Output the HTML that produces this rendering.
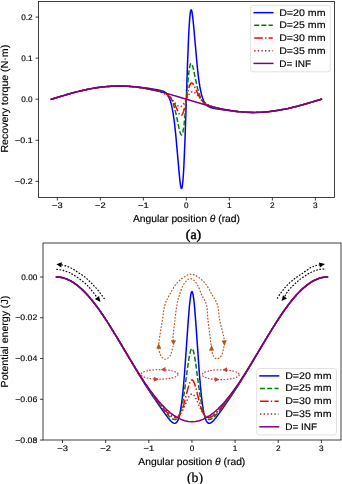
<!DOCTYPE html><html><head><meta charset="utf-8"><style>html,body{margin:0;padding:0;background:#fff;width:342px;height:484px;overflow:hidden}svg{will-change:transform}text{stroke:#000;stroke-width:0.15px;text-rendering:geometricPrecision}</style></head><body><svg width="342" height="484" viewBox="0 0 342 484" style="display:block;font-family:'Liberation Sans',sans-serif" fill="#000">
<rect width="342" height="484" fill="#fff"/>
<defs><clipPath id="ct"><rect x="38.5" y="1.5" width="296" height="196"/></clipPath><clipPath id="cb"><rect x="43" y="243" width="298" height="197"/></clipPath></defs>
<g clip-path="url(#ct)"><path d="M51.26,99.20 L70.61,93.46 L77.57,91.62 L84.54,89.98 L91.50,88.57 L97.69,87.56 L104.66,86.70 L110.85,86.20 L117.04,85.97 L124.00,86.02 L130.97,86.39 L137.93,87.04 L148.08,88.35 L158.51,89.96 L162.27,90.92 L163.67,91.51 L164.96,92.26 L166.35,93.43 L167.54,94.85 L168.61,96.62 L169.58,98.73 L170.44,101.15 L171.30,104.20 L172.91,112.04 L174.31,121.65 L175.60,133.17 L179.79,179.84 L180.65,186.14 L181.08,187.93 L181.30,188.41 L181.51,188.58 L181.84,188.22 L182.16,187.07 L182.69,183.27 L183.23,176.99 L183.77,168.20 L184.95,140.85 L187.42,66.56 L188.50,38.96 L189.14,26.39 L189.79,17.34 L190.44,11.90 L190.76,10.47 L191.08,9.86 L191.29,9.87 L191.51,10.20 L191.94,11.71 L192.80,17.60 L193.77,27.33 L197.21,66.29 L198.50,77.59 L199.89,86.98 L201.51,94.62 L202.37,97.58 L203.23,99.93 L204.19,101.99 L205.27,103.70 L206.45,105.08 L207.74,106.14 L209.03,106.89 L210.43,107.48 L214.19,108.44 L224.62,110.05 L234.77,111.36 L241.73,112.01 L248.70,112.38 L255.66,112.43 L261.85,112.20 L268.04,111.70 L275.01,110.84 L281.20,109.83 L288.16,108.42 L295.13,106.78 L302.09,104.94 L321.44,99.20" fill="none" stroke="#0000ff" stroke-width="1.50" stroke-linecap="square" stroke-linejoin="round"/><path d="M51.26,99.20 L69.83,93.68 L76.80,91.82 L83.76,90.15 L89.95,88.87 L96.14,87.80 L102.34,86.96 L108.53,86.38 L114.72,86.06 L120.91,86.00 L127.10,86.21 L133.29,86.68 L140.25,87.49 L147.22,88.55 L155.50,90.07 L161.09,91.35 L163.13,91.98 L164.85,92.66 L166.35,93.46 L167.64,94.36 L168.83,95.46 L169.90,96.75 L170.87,98.22 L171.84,100.06 L173.45,104.14 L175.06,109.74 L176.46,115.84 L178.93,127.93 L179.90,131.91 L180.76,134.28 L181.19,134.88 L181.62,134.99 L181.94,134.72 L182.26,134.13 L182.91,131.91 L183.45,128.96 L184.09,124.14 L185.28,112.19 L187.75,82.62 L188.93,71.68 L189.47,68.14 L190.00,65.59 L190.54,64.03 L190.86,63.55 L191.19,63.39 L191.62,63.63 L192.05,64.34 L192.91,66.88 L197.64,88.66 L199.25,94.26 L200.86,98.34 L201.83,100.18 L202.80,101.65 L203.87,102.94 L205.06,104.04 L206.34,104.94 L207.85,105.74 L209.57,106.42 L211.61,107.05 L217.20,108.33 L225.48,109.85 L232.45,110.91 L239.41,111.72 L245.60,112.19 L251.79,112.40 L257.98,112.34 L264.17,112.02 L270.36,111.44 L276.56,110.60 L282.75,109.53 L288.94,108.25 L295.90,106.58 L302.87,104.72 L321.44,99.20" fill="none" stroke="#008000" stroke-width="1.50" stroke-dasharray="5.0,2.2" stroke-linejoin="round"/><path d="M51.26,99.20 L66.74,94.56 L78.35,91.43 L88.41,89.17 L98.47,87.46 L103.88,86.79 L108.53,86.38 L117.81,86.00 L122.46,86.04 L127.87,86.27 L132.52,86.62 L137.93,87.21 L147.97,88.76 L157.54,90.75 L160.66,91.59 L163.24,92.46 L165.28,93.35 L167.11,94.40 L168.50,95.44 L169.79,96.63 L170.98,97.98 L172.16,99.62 L174.42,103.64 L178.82,113.22 L180.01,114.92 L180.54,115.33 L181.08,115.46 L181.73,115.18 L182.37,114.39 L182.91,113.32 L183.56,111.55 L184.84,106.56 L187.53,93.32 L188.72,88.32 L189.47,85.90 L190.11,84.39 L190.76,83.42 L191.51,82.95 L192.05,83.02 L192.59,83.38 L193.77,84.99 L194.84,87.11 L198.28,94.76 L200.65,98.94 L201.83,100.55 L203.01,101.88 L204.30,103.05 L205.70,104.07 L207.53,105.10 L209.57,105.98 L212.15,106.84 L215.27,107.68 L224.83,109.66 L234.77,111.19 L240.18,111.78 L244.83,112.13 L250.24,112.36 L254.89,112.40 L264.17,112.02 L268.82,111.61 L274.23,110.94 L284.29,109.23 L294.35,106.97 L305.96,103.84 L321.44,99.20" fill="none" stroke="#ff0000" stroke-width="1.50" stroke-dasharray="8.64,2.2,1.4,2.2" stroke-linejoin="round"/><path d="M51.26,99.20 L65.19,95.00 L75.25,92.22 L84.54,89.98 L93.82,88.17 L103.11,86.87 L111.62,86.18 L120.13,85.99 L128.65,86.31 L137.93,87.21 L147.11,88.63 L155.39,90.45 L158.62,91.38 L161.41,92.38 L165.06,94.11 L168.29,96.28 L171.30,99.01 L176.78,104.92 L178.18,106.03 L179.47,106.59 L180.33,106.64 L181.08,106.45 L181.84,106.02 L182.69,105.23 L184.41,102.80 L187.85,96.34 L189.36,93.96 L190.22,92.94 L191.08,92.23 L191.94,91.84 L192.80,91.75 L194.20,92.19 L195.70,93.28 L201.72,99.72 L203.44,101.32 L205.16,102.69 L206.88,103.84 L208.82,104.92 L210.86,105.85 L213.22,106.74 L216.99,107.87 L221.61,108.97 L226.88,110.00 L232.45,110.88 L237.86,111.56 L243.28,112.04 L248.70,112.33 L253.34,112.41 L260.30,112.26 L268.04,111.69 L275.78,110.72 L283.52,109.38 L291.26,107.72 L299.77,105.57 L309.06,102.95 L321.44,99.20" fill="none" stroke="#a52a2a" stroke-width="1.50" stroke-dasharray="1.4,2.2" stroke-linejoin="round"/><path d="M51.26,99.20 L63.64,95.46 L72.93,92.84 L81.44,90.69 L89.18,89.02 L96.92,87.69 L103.88,86.80 L111.62,86.20 L118.59,86.02 L126.33,86.22 L134.06,86.84 L141.80,87.86 L150.55,89.45 L158.62,91.27 L167.54,93.62 L176.46,96.19 L200.86,103.57 L208.39,105.66 L215.16,107.39 L223.22,109.17 L230.90,110.54 L237.86,111.48 L244.83,112.09 L253.34,112.38 L261.85,112.16 L270.36,111.43 L278.88,110.22 L288.16,108.41 L297.45,106.18 L307.51,103.40 L321.44,99.20" fill="none" stroke="#800080" stroke-width="1.50" stroke-linecap="square" stroke-linejoin="round"/></g>
<rect x="38.5" y="1.5" width="296" height="196" stroke="#000" stroke-width="0.75" fill="none"/>
<line x1="35.5" y1="17.07" x2="38.5" y2="17.07" stroke="#000" stroke-width="0.75" fill="none"/>
<text x="32.60" y="19.82" font-size="8.00" text-anchor="end" textLength="11.45" lengthAdjust="spacingAndGlyphs">0.2</text>
<line x1="35.5" y1="58.13" x2="38.5" y2="58.13" stroke="#000" stroke-width="0.75" fill="none"/>
<text x="32.60" y="60.88" font-size="8.00" text-anchor="end" textLength="11.45" lengthAdjust="spacingAndGlyphs">0.1</text>
<line x1="35.5" y1="99.20" x2="38.5" y2="99.20" stroke="#000" stroke-width="0.75" fill="none"/>
<text x="32.60" y="101.95" font-size="8.00" text-anchor="end" textLength="11.45" lengthAdjust="spacingAndGlyphs">0.0</text>
<line x1="35.5" y1="140.27" x2="38.5" y2="140.27" stroke="#000" stroke-width="0.75" fill="none"/>
<text x="32.60" y="143.02" font-size="8.00" text-anchor="end" textLength="17.48" lengthAdjust="spacingAndGlyphs">−0.1</text>
<line x1="35.5" y1="181.33" x2="38.5" y2="181.33" stroke="#000" stroke-width="0.75" fill="none"/>
<text x="32.60" y="184.08" font-size="8.00" text-anchor="end" textLength="17.48" lengthAdjust="spacingAndGlyphs">−0.2</text>
<line x1="57.35" y1="197.5" x2="57.35" y2="200.5" stroke="#000" stroke-width="0.75" fill="none"/>
<text x="57.35" y="207.80" font-size="8.00" text-anchor="middle" textLength="10.61" lengthAdjust="spacingAndGlyphs">−3</text>
<line x1="100.35" y1="197.5" x2="100.35" y2="200.5" stroke="#000" stroke-width="0.75" fill="none"/>
<text x="100.35" y="207.80" font-size="8.00" text-anchor="middle" textLength="10.61" lengthAdjust="spacingAndGlyphs">−2</text>
<line x1="143.35" y1="197.5" x2="143.35" y2="200.5" stroke="#000" stroke-width="0.75" fill="none"/>
<text x="143.35" y="207.80" font-size="8.00" text-anchor="middle" textLength="10.61" lengthAdjust="spacingAndGlyphs">−1</text>
<line x1="186.35" y1="197.5" x2="186.35" y2="200.5" stroke="#000" stroke-width="0.75" fill="none"/>
<text x="186.35" y="207.80" font-size="8.00" text-anchor="middle" textLength="4.58" lengthAdjust="spacingAndGlyphs">0</text>
<line x1="229.35" y1="197.5" x2="229.35" y2="200.5" stroke="#000" stroke-width="0.75" fill="none"/>
<text x="229.35" y="207.80" font-size="8.00" text-anchor="middle" textLength="4.58" lengthAdjust="spacingAndGlyphs">1</text>
<line x1="272.35" y1="197.5" x2="272.35" y2="200.5" stroke="#000" stroke-width="0.75" fill="none"/>
<text x="272.35" y="207.80" font-size="8.00" text-anchor="middle" textLength="4.58" lengthAdjust="spacingAndGlyphs">2</text>
<line x1="315.35" y1="197.5" x2="315.35" y2="200.5" stroke="#000" stroke-width="0.75" fill="none"/>
<text x="315.35" y="207.80" font-size="8.00" text-anchor="middle" textLength="4.58" lengthAdjust="spacingAndGlyphs">3</text>
<text x="133.0" y="221.6" font-size="10.2" textLength="107" lengthAdjust="spacingAndGlyphs">Angular position <tspan font-style="italic">θ</tspan> (rad)</text>
<text transform="translate(8.0,152.6) rotate(-90)" x="0" y="0" font-size="10.2" textLength="107.8" lengthAdjust="spacingAndGlyphs">Recovery torque (N·m)</text>
<rect x="250.60" y="5.40" width="79.70" height="66.40" rx="2.5" ry="2.5" fill="#fff" fill-opacity="0.8" stroke="#d6d6d6" stroke-width="0.72"/><line x1="254.20" y1="12.65" x2="272.80" y2="12.65" stroke="#0000ff" stroke-width="1.50" stroke-linecap="square"/><text x="279.20" y="15.80" font-size="9.60" text-anchor="start" textLength="46.31" lengthAdjust="spacingAndGlyphs">D=20 mm</text><line x1="254.20" y1="25.34" x2="272.80" y2="25.34" stroke="#008000" stroke-width="1.50" stroke-dasharray="5.0,2.2"/><text x="279.20" y="28.48" font-size="9.60" text-anchor="start" textLength="46.31" lengthAdjust="spacingAndGlyphs">D=25 mm</text><line x1="254.20" y1="38.03" x2="272.80" y2="38.03" stroke="#ff0000" stroke-width="1.50" stroke-dasharray="8.64,2.2,1.4,2.2"/><text x="279.20" y="41.15" font-size="9.60" text-anchor="start" textLength="46.31" lengthAdjust="spacingAndGlyphs">D=30 mm</text><line x1="254.20" y1="50.72" x2="272.80" y2="50.72" stroke="#a52a2a" stroke-width="1.50" stroke-dasharray="1.4,2.2"/><text x="279.20" y="53.83" font-size="9.60" text-anchor="start" textLength="46.31" lengthAdjust="spacingAndGlyphs">D=35 mm</text><line x1="254.20" y1="63.41" x2="272.80" y2="63.41" stroke="#800080" stroke-width="1.50" stroke-linecap="square"/><text x="279.20" y="66.50" font-size="9.60" text-anchor="start" textLength="31.90" lengthAdjust="spacingAndGlyphs">D= INF</text>
<text x="193.5" y="238.5" font-size="13.8" text-anchor="middle" style="font-family:'Liberation Serif',serif;stroke-width:0.45px">(a)</text>
<g clip-path="url(#cb)"><path d="M56.42,277.00 L60.30,277.30 L62.63,277.75 L64.96,278.42 L68.84,279.99 L71.17,281.21 L73.50,282.62 L78.16,286.02 L82.82,290.17 L87.48,295.00 L92.13,300.48 L96.02,305.48 L99.90,310.84 L103.78,316.52 L108.44,323.69 L116.98,337.57 L139.49,375.41 L146.48,386.57 L153.23,396.86 L162.72,410.61 L168.65,418.61 L170.49,420.73 L172.11,422.25 L173.51,423.12 L174.69,423.38 L175.77,423.07 L176.85,422.08 L177.82,420.42 L178.68,418.18 L179.55,415.08 L180.30,411.54 L181.81,401.74 L183.11,390.08 L184.40,375.29 L188.18,321.62 L189.36,306.77 L190.55,296.26 L191.20,292.96 L191.73,291.70 L192.06,291.62 L192.38,292.04 L193.03,294.38 L193.68,298.59 L194.43,305.61 L195.72,321.62 L199.61,376.64 L201.01,392.24 L202.30,403.38 L203.81,412.63 L204.57,415.94 L205.43,418.81 L206.29,420.86 L207.26,422.34 L208.34,423.18 L208.88,423.35 L209.53,423.36 L210.72,422.97 L212.12,421.98 L213.74,420.38 L215.68,418.07 L222.04,409.39 L231.32,395.89 L238.20,385.36 L245.18,374.14 L266.92,337.57 L275.46,323.69 L280.12,316.52 L284.00,310.84 L287.88,305.48 L291.77,300.48 L296.42,295.00 L301.08,290.17 L305.74,286.02 L310.40,282.62 L312.73,281.21 L315.06,279.99 L318.94,278.42 L321.27,277.75 L323.60,277.30 L327.48,277.00" fill="none" stroke="#0000ff" stroke-width="1.50" stroke-linecap="square" stroke-linejoin="round"/><path d="M56.42,276.99 L60.30,277.29 L64.19,278.17 L68.07,279.62 L70.40,280.77 L72.73,282.11 L76.61,284.79 L81.27,288.69 L85.92,293.30 L90.58,298.56 L94.46,303.40 L98.35,308.62 L103.00,315.32 L107.66,322.42 L116.20,336.20 L138.72,373.87 L145.70,384.91 L152.37,394.83 L160.46,405.93 L164.12,410.58 L167.25,414.23 L169.63,416.67 L171.57,418.30 L173.29,419.29 L174.80,419.62 L175.77,419.46 L176.74,418.93 L177.61,418.09 L178.47,416.82 L179.22,415.30 L179.98,413.36 L181.49,408.03 L182.78,401.78 L184.08,393.95 L187.85,365.89 L189.04,357.96 L190.33,351.62 L190.98,349.69 L191.52,348.80 L191.84,348.59 L192.17,348.63 L192.49,348.92 L192.92,349.69 L193.68,352.03 L194.43,355.52 L195.83,364.34 L198.74,386.39 L200.15,396.04 L201.66,404.58 L203.06,410.57 L203.92,413.36 L204.78,415.54 L205.65,417.18 L206.62,418.45 L207.59,419.22 L208.67,419.59 L209.85,419.53 L211.15,419.04 L212.77,417.98 L214.60,416.36 L216.86,413.99 L219.45,410.97 L226.25,402.21 L233.58,391.85 L239.75,382.51 L245.96,372.61 L267.70,336.20 L276.24,322.42 L280.90,315.32 L284.78,309.71 L288.66,304.42 L292.54,299.50 L297.20,294.13 L301.86,289.41 L306.52,285.39 L310.40,282.60 L312.73,281.19 L315.06,279.98 L318.94,278.41 L321.27,277.74 L323.60,277.29 L327.48,276.99" fill="none" stroke="#008000" stroke-width="1.50" stroke-dasharray="5.0,2.2" stroke-linejoin="round"/><path d="M56.42,276.98 L60.30,277.28 L64.19,278.16 L68.07,279.61 L70.40,280.76 L72.73,282.10 L76.61,284.78 L81.27,288.67 L85.15,292.47 L89.81,297.62 L93.69,302.38 L97.57,307.52 L102.23,314.14 L106.89,321.17 L115.43,334.86 L131.73,362.21 L138.72,373.67 L145.70,384.60 L152.15,394.02 L156.14,399.46 L160.03,404.44 L163.59,408.68 L166.82,412.19 L169.52,414.73 L171.78,416.43 L173.72,417.42 L175.45,417.74 L176.31,417.64 L177.07,417.38 L177.82,416.94 L178.58,416.29 L179.98,414.45 L181.38,411.70 L182.57,408.59 L183.86,404.41 L187.74,389.15 L189.04,384.66 L189.79,382.59 L190.44,381.24 L191.20,380.24 L191.84,379.90 L192.49,380.07 L193.14,380.73 L193.78,381.86 L194.54,383.72 L195.94,388.34 L199.18,401.23 L200.79,406.94 L202.52,411.70 L203.38,413.51 L204.35,415.11 L205.43,416.39 L206.51,417.22 L207.70,417.66 L208.99,417.70 L210.39,417.33 L211.90,416.57 L213.63,415.35 L215.46,413.76 L219.67,409.41 L224.74,403.36 L230.13,396.26 L235.87,388.08 L241.30,379.82 L246.74,371.16 L267.70,336.15 L276.24,322.38 L280.90,315.29 L284.78,309.68 L288.66,304.40 L292.54,299.48 L297.20,294.11 L301.86,289.39 L306.52,285.37 L310.40,282.59 L312.73,281.18 L315.06,279.97 L318.94,278.40 L321.27,277.74 L323.60,277.28 L327.48,276.98" fill="none" stroke="#ff0000" stroke-width="1.50" stroke-dasharray="8.64,2.2,1.4,2.2" stroke-linejoin="round"/><path d="M56.42,276.98 L60.30,277.28 L64.19,278.16 L68.07,279.61 L70.40,280.76 L72.73,282.10 L76.61,284.77 L81.27,288.67 L85.15,292.46 L89.81,297.62 L93.69,302.38 L97.57,307.52 L102.23,314.14 L106.89,321.17 L115.43,334.86 L131.73,362.18 L138.72,373.63 L145.70,384.52 L152.26,394.02 L156.14,399.24 L159.81,403.84 L163.26,407.83 L166.39,411.07 L169.09,413.47 L171.46,415.15 L173.62,416.16 L175.56,416.50 L176.96,416.31 L178.36,415.66 L179.66,414.60 L180.95,413.06 L182.14,411.21 L183.43,408.76 L187.42,399.71 L188.82,396.91 L189.58,395.72 L190.33,394.80 L191.09,394.22 L191.73,393.99 L192.49,394.07 L193.24,394.51 L194.00,395.29 L194.75,396.37 L196.26,399.24 L199.72,407.15 L201.44,410.64 L203.27,413.49 L204.24,414.60 L205.22,415.44 L206.40,416.12 L207.59,416.45 L208.88,416.47 L210.18,416.20 L211.58,415.62 L213.20,414.67 L214.81,413.47 L216.65,411.88 L220.96,407.47 L225.81,401.72 L231.10,394.76 L236.64,386.84 L242.08,378.55 L247.51,369.86 L267.70,336.14 L276.24,322.37 L280.90,315.28 L284.78,309.68 L288.66,304.39 L292.54,299.47 L297.20,294.11 L301.86,289.39 L306.52,285.37 L310.40,282.59 L312.73,281.18 L315.06,279.97 L318.94,278.40 L321.27,277.74 L323.60,277.28 L327.48,276.98" fill="none" stroke="#a52a2a" stroke-width="1.50" stroke-dasharray="1.4,2.2" stroke-linejoin="round"/><path d="M56.42,276.97 L60.30,277.26 L62.63,277.72 L64.96,278.38 L68.84,279.95 L71.17,281.16 L73.50,282.57 L77.38,285.35 L82.04,289.36 L86.70,294.07 L91.36,299.43 L95.24,304.34 L99.12,309.62 L103.00,315.22 L107.66,322.29 L116.20,336.02 L134.84,367.02 L140.27,375.70 L144.93,382.81 L149.56,389.50 L153.88,395.31 L158.09,400.53 L162.18,405.15 L166.07,409.06 L169.95,412.49 L173.72,415.34 L177.39,417.62 L181.06,419.41 L184.72,420.69 L188.39,421.46 L191.95,421.70 L195.51,421.46 L199.18,420.69 L202.84,419.41 L206.51,417.62 L210.18,415.34 L213.95,412.49 L217.83,409.06 L221.72,405.15 L225.81,400.53 L230.02,395.31 L234.34,389.50 L238.97,382.81 L243.63,375.70 L249.06,367.02 L267.70,336.02 L276.24,322.29 L280.90,315.22 L284.78,309.62 L288.66,304.34 L292.54,299.43 L297.20,294.07 L301.86,289.36 L306.52,285.35 L310.40,282.57 L312.73,281.16 L315.06,279.95 L318.94,278.38 L321.27,277.72 L323.60,277.26 L327.48,276.97" fill="none" stroke="#800080" stroke-width="1.50" stroke-linecap="square" stroke-linejoin="round"/></g>
<rect x="43" y="243" width="298" height="197" stroke="#000" stroke-width="0.75" fill="none"/>
<line x1="40" y1="276.97" x2="43" y2="276.97" stroke="#000" stroke-width="0.75" fill="none"/>
<text x="37.30" y="279.72" font-size="8.00" text-anchor="end" textLength="16.03" lengthAdjust="spacingAndGlyphs">0.00</text>
<line x1="40" y1="317.74" x2="43" y2="317.74" stroke="#000" stroke-width="0.75" fill="none"/>
<text x="37.30" y="320.49" font-size="8.00" text-anchor="end" textLength="22.06" lengthAdjust="spacingAndGlyphs">−0.02</text>
<line x1="40" y1="358.51" x2="43" y2="358.51" stroke="#000" stroke-width="0.75" fill="none"/>
<text x="37.30" y="361.26" font-size="8.00" text-anchor="end" textLength="22.06" lengthAdjust="spacingAndGlyphs">−0.04</text>
<line x1="40" y1="399.28" x2="43" y2="399.28" stroke="#000" stroke-width="0.75" fill="none"/>
<text x="37.30" y="402.03" font-size="8.00" text-anchor="end" textLength="22.06" lengthAdjust="spacingAndGlyphs">−0.06</text>
<line x1="40" y1="440.05" x2="43" y2="440.05" stroke="#000" stroke-width="0.75" fill="none"/>
<text x="37.30" y="442.80" font-size="8.00" text-anchor="end" textLength="22.06" lengthAdjust="spacingAndGlyphs">−0.08</text>
<line x1="62.53" y1="440" x2="62.53" y2="443" stroke="#000" stroke-width="0.75" fill="none"/>
<text x="62.53" y="450.90" font-size="8.00" text-anchor="middle" textLength="10.61" lengthAdjust="spacingAndGlyphs">−3</text>
<line x1="105.67" y1="440" x2="105.67" y2="443" stroke="#000" stroke-width="0.75" fill="none"/>
<text x="105.67" y="450.90" font-size="8.00" text-anchor="middle" textLength="10.61" lengthAdjust="spacingAndGlyphs">−2</text>
<line x1="148.81" y1="440" x2="148.81" y2="443" stroke="#000" stroke-width="0.75" fill="none"/>
<text x="148.81" y="450.90" font-size="8.00" text-anchor="middle" textLength="10.61" lengthAdjust="spacingAndGlyphs">−1</text>
<line x1="191.95" y1="440" x2="191.95" y2="443" stroke="#000" stroke-width="0.75" fill="none"/>
<text x="191.95" y="450.90" font-size="8.00" text-anchor="middle" textLength="4.58" lengthAdjust="spacingAndGlyphs">0</text>
<line x1="235.09" y1="440" x2="235.09" y2="443" stroke="#000" stroke-width="0.75" fill="none"/>
<text x="235.09" y="450.90" font-size="8.00" text-anchor="middle" textLength="4.58" lengthAdjust="spacingAndGlyphs">1</text>
<line x1="278.23" y1="440" x2="278.23" y2="443" stroke="#000" stroke-width="0.75" fill="none"/>
<text x="278.23" y="450.90" font-size="8.00" text-anchor="middle" textLength="4.58" lengthAdjust="spacingAndGlyphs">2</text>
<line x1="321.37" y1="440" x2="321.37" y2="443" stroke="#000" stroke-width="0.75" fill="none"/>
<text x="321.37" y="450.90" font-size="8.00" text-anchor="middle" textLength="4.58" lengthAdjust="spacingAndGlyphs">3</text>
<text x="138.3" y="465.2" font-size="10.2" textLength="107" lengthAdjust="spacingAndGlyphs">Angular position <tspan font-style="italic">θ</tspan> (rad)</text>
<text transform="translate(8.0,387.4) rotate(-90)" x="0" y="0" font-size="10.2" textLength="91.6" lengthAdjust="spacingAndGlyphs">Potential energy (J)</text>
<rect x="256.70" y="368.50" width="79.80" height="66.40" rx="2.5" ry="2.5" fill="#fff" fill-opacity="0.8" stroke="#d6d6d6" stroke-width="0.72"/><line x1="260.00" y1="375.90" x2="278.60" y2="375.90" stroke="#0000ff" stroke-width="1.50" stroke-linecap="square"/><text x="285.20" y="378.60" font-size="9.60" text-anchor="start" textLength="46.31" lengthAdjust="spacingAndGlyphs">D=20 mm</text><line x1="260.00" y1="388.62" x2="278.60" y2="388.62" stroke="#008000" stroke-width="1.50" stroke-dasharray="5.0,2.2"/><text x="285.20" y="391.40" font-size="9.60" text-anchor="start" textLength="46.31" lengthAdjust="spacingAndGlyphs">D=25 mm</text><line x1="260.00" y1="401.34" x2="278.60" y2="401.34" stroke="#ff0000" stroke-width="1.50" stroke-dasharray="8.64,2.2,1.4,2.2"/><text x="285.20" y="404.20" font-size="9.60" text-anchor="start" textLength="46.31" lengthAdjust="spacingAndGlyphs">D=30 mm</text><line x1="260.00" y1="414.06" x2="278.60" y2="414.06" stroke="#a52a2a" stroke-width="1.50" stroke-dasharray="1.4,2.2"/><text x="285.20" y="417.00" font-size="9.60" text-anchor="start" textLength="46.31" lengthAdjust="spacingAndGlyphs">D=35 mm</text><line x1="260.00" y1="426.78" x2="278.60" y2="426.78" stroke="#800080" stroke-width="1.50" stroke-linecap="square"/><text x="285.20" y="429.80" font-size="9.60" text-anchor="start" textLength="31.90" lengthAdjust="spacingAndGlyphs">D= INF</text>
<text x="195" y="481.7" font-size="13.8" text-anchor="middle" style="font-family:'Liberation Serif',serif;stroke-width:0.25px">(b)</text>
<g clip-path="url(#cb)"><path d="M61.40,264.80 C62.42,265.08 65.50,265.75 67.50,266.50 C69.50,267.25 71.52,268.22 73.40,269.30 C75.28,270.38 76.93,271.75 78.80,273.00 C80.67,274.25 82.87,275.47 84.60,276.80 C86.33,278.13 87.63,279.50 89.20,281.00 C90.77,282.50 92.50,284.20 94.00,285.80 C95.50,287.40 96.80,288.88 98.20,290.60 C99.60,292.32 101.33,294.70 102.40,296.10 C103.47,297.50 104.23,298.52 104.60,299.00" fill="none" stroke="#000" stroke-width="1.15" stroke-dasharray="1.7,1.5"/><path d="M56.40,264.30 L61.90,262.32 L61.30,267.48 Z" fill="#000"/><path d="M56.30,269.40 C56.88,269.45 58.67,269.53 59.80,269.70 C60.93,269.87 62.02,270.10 63.10,270.40 C64.18,270.70 65.23,271.13 66.30,271.50 C67.37,271.87 68.48,272.13 69.50,272.60 C70.52,273.07 71.05,273.47 72.40,274.30 C73.75,275.13 75.85,276.40 77.60,277.60 C79.35,278.80 81.25,280.17 82.90,281.50 C84.55,282.83 86.28,284.40 87.50,285.60 C88.72,286.80 89.05,287.33 90.20,288.70 C91.35,290.07 93.27,292.32 94.40,293.80 C95.53,295.28 96.57,296.97 97.00,297.60" fill="none" stroke="#000" stroke-width="1.15" stroke-dasharray="1.7,1.5"/><path d="M100.40,302.10 L94.91,299.05 L99.09,295.95 Z" fill="#000"/><path d="M277.10,298.60 C277.63,297.78 279.15,295.32 280.30,293.70 C281.45,292.08 282.77,290.40 284.00,288.90 C285.23,287.40 286.30,286.10 287.70,284.70 C289.10,283.30 290.82,281.82 292.40,280.50 C293.98,279.18 295.62,277.93 297.20,276.80 C298.78,275.67 300.50,274.65 301.90,273.70 C303.30,272.75 304.10,272.12 305.60,271.10 C307.10,270.08 309.55,268.40 310.90,267.60 C312.25,266.80 312.70,266.68 313.70,266.30 C314.70,265.92 315.92,265.52 316.90,265.30 C317.88,265.08 319.15,265.05 319.60,265.00" fill="none" stroke="#000" stroke-width="1.15" stroke-dasharray="1.7,1.5"/><path d="M325.00,263.90 L319.90,267.55 L318.90,262.45 Z" fill="#000"/><path d="M284.90,296.30 C285.28,295.60 286.22,293.50 287.20,292.10 C288.18,290.70 289.48,289.30 290.80,287.90 C292.12,286.50 293.60,285.10 295.10,283.70 C296.60,282.30 298.23,280.73 299.80,279.50 C301.37,278.27 303.00,277.30 304.50,276.30 C306.00,275.30 307.62,274.20 308.80,273.50 C309.98,272.80 310.60,272.57 311.60,272.10 C312.60,271.63 313.75,271.10 314.80,270.70 C315.85,270.30 316.85,269.95 317.90,269.70 C318.95,269.45 319.98,269.32 321.10,269.20 C322.22,269.08 323.78,269.05 324.60,269.00 C325.42,268.95 325.77,268.92 326.00,268.90" fill="none" stroke="#000" stroke-width="1.15" stroke-dasharray="1.7,1.5"/><path d="M281.60,301.10 L282.98,295.26 L287.02,298.54 Z" fill="#000"/><path d="M158.70,347.00 C158.78,345.83 158.58,344.50 159.20,340.00 C159.82,335.50 161.45,325.83 162.40,320.00 C163.35,314.17 163.73,309.17 164.90,305.00 C166.07,300.83 167.22,298.83 169.40,295.00 C171.58,291.17 174.37,285.47 178.00,282.00 C181.63,278.53 186.87,274.20 191.20,274.20 C195.53,274.20 200.50,278.53 204.00,282.00 C207.50,285.47 209.95,291.17 212.20,295.00 C214.45,298.83 216.25,300.83 217.50,305.00 C218.75,309.17 218.68,314.83 219.70,320.00 C220.72,325.17 222.87,332.50 223.60,336.00 C224.33,339.50 224.02,340.17 224.10,341.00" fill="none" stroke="#b45514" stroke-width="1.15" stroke-dasharray="1.7,1.5"/><path d="M173.50,341.00 C173.43,340.17 172.87,339.50 173.10,336.00 C173.33,332.50 174.27,325.17 174.90,320.00 C175.53,314.83 176.15,309.17 176.90,305.00 C177.65,300.83 178.22,298.50 179.40,295.00 C180.58,291.50 182.15,286.73 184.00,284.00 C185.85,281.27 188.33,278.60 190.50,278.60 C192.67,278.60 195.13,281.27 197.00,284.00 C198.87,286.73 200.12,291.50 201.70,295.00 C203.28,298.50 205.45,300.83 206.50,305.00 C207.55,309.17 207.38,314.50 208.00,320.00 C208.62,325.50 209.67,333.67 210.20,338.00 C210.73,342.33 211.03,344.67 211.20,346.00" fill="none" stroke="#b45514" stroke-width="1.15" stroke-dasharray="1.7,1.5"/><path d="M158.70,348.00 C159.00,349.17 159.48,353.13 160.50,355.00 C161.52,356.87 163.22,359.03 164.80,359.20 C166.38,359.37 168.60,358.20 170.00,356.00 C171.40,353.80 172.67,347.67 173.20,346.00" fill="none" stroke="#b45514" stroke-width="1.15" stroke-dasharray="1.7,1.5"/><path d="M211.50,349.00 C211.75,350.00 212.12,353.33 213.00,355.00 C213.88,356.67 215.38,358.92 216.80,359.00 C218.22,359.08 220.28,357.67 221.50,355.50 C222.72,353.33 223.67,347.58 224.10,346.00" fill="none" stroke="#b45514" stroke-width="1.15" stroke-dasharray="1.7,1.5"/><path d="M158.70,343.30 L161.40,348.75 L156.20,348.85 Z" fill="#b45514"/><path d="M173.50,345.30 L170.80,340.35 L176.00,340.25 Z" fill="#b45514"/><path d="M211.50,345.10 L214.20,350.55 L209.00,350.65 Z" fill="#b45514"/><path d="M224.40,345.90 L221.60,340.49 L226.80,340.31 Z" fill="#b45514"/><ellipse cx="159.50" cy="374.40" rx="18.60" ry="4.80" fill="none" stroke="#c8403c" stroke-width="1.15" stroke-dasharray="1.6,1.5"/><path d="M160.80,369.60 L165.50,367.10 L165.50,372.10 Z" fill="#c8403c"/><path d="M158.80,379.20 L153.80,381.70 L153.80,376.70 Z" fill="#c8403c"/><ellipse cx="220.70" cy="374.70" rx="18.60" ry="4.90" fill="none" stroke="#c8403c" stroke-width="1.15" stroke-dasharray="1.6,1.5"/><path d="M222.60,369.80 L227.00,367.30 L227.00,372.30 Z" fill="#c8403c"/><path d="M219.60,379.60 L214.70,382.10 L214.70,377.10 Z" fill="#c8403c"/></g>
</svg></body></html>
